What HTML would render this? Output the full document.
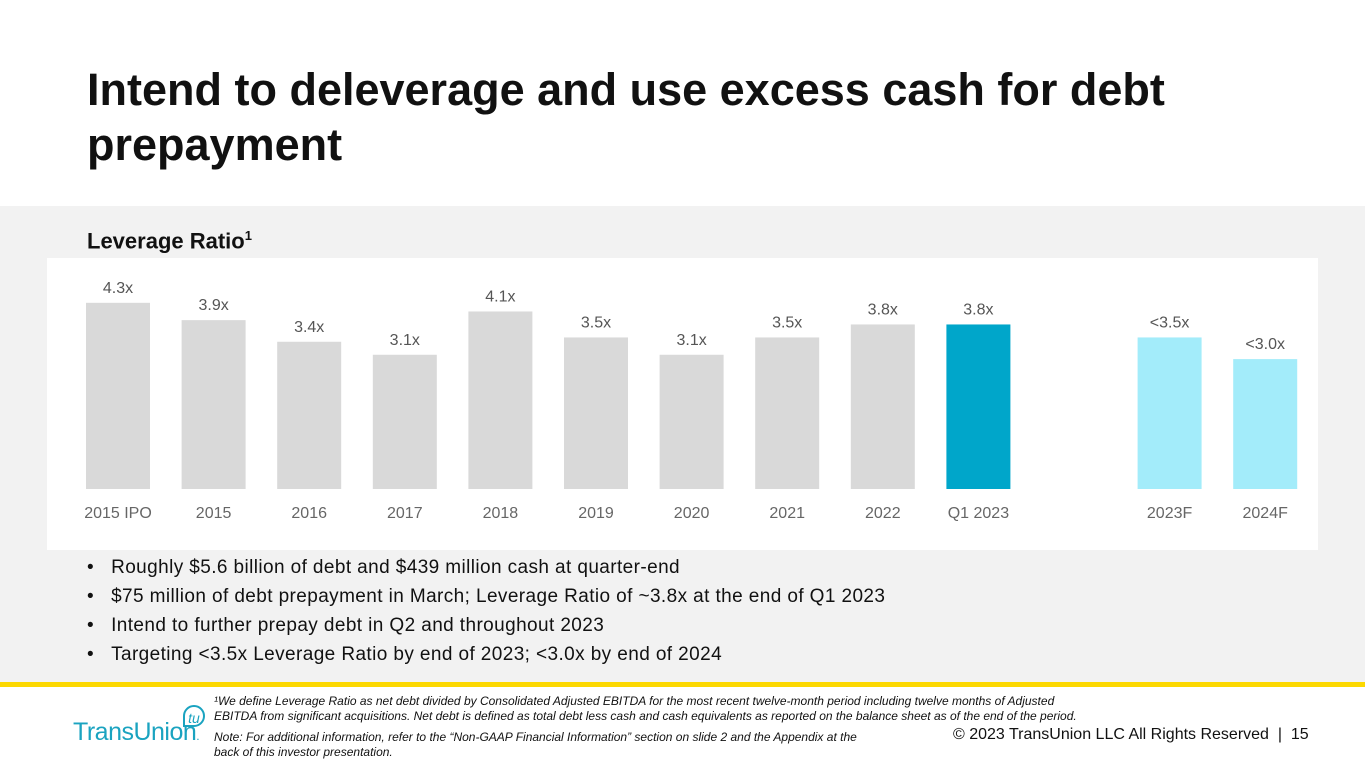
<!DOCTYPE html>
<html><head><meta charset="utf-8"><style>
body{margin:0;width:1365px;height:768px;overflow:hidden;background:#fff;font-family:"Liberation Sans",Arial,sans-serif;position:relative}
.abs{position:absolute}
</style></head><body>
<div class="abs" style="left:87px;top:62px;font-size:45px;font-weight:bold;line-height:55px;color:#111;width:1150px">Intend to deleverage and use excess cash for debt prepayment</div>
<div class="abs" style="left:0;top:206px;width:1365px;height:476px;background:#f2f2f2"></div>
<div class="abs" style="left:87px;top:228px;font-size:22px;font-weight:bold;color:#111">Leverage Ratio<sup style="font-size:13px">1</sup></div>
<div class="abs" style="left:47px;top:258px;width:1271px;height:292px;background:#fff"></div>
<svg class="abs" style="left:0;top:0" width="1365" height="768" id="chart"></svg>
<ul class="abs" style="left:87px;top:553px;margin:0;padding:0;list-style:none;font-size:19px;letter-spacing:0.4px;color:#111;line-height:29px;white-space:nowrap">
<li>•&nbsp;&nbsp;&nbsp;Roughly $5.6 billion of debt and $439 million cash at quarter-end</li>
<li>•&nbsp;&nbsp;&nbsp;$75 million of debt prepayment in March; Leverage Ratio of ~3.8x at the end of Q1 2023</li>
<li>•&nbsp;&nbsp;&nbsp;Intend to further prepay debt in Q2 and throughout 2023</li>
<li>•&nbsp;&nbsp;&nbsp;Targeting &lt;3.5x Leverage Ratio by end of 2023; &lt;3.0x by end of 2024</li>
</ul>
<div class="abs" style="left:0;top:682px;width:1365px;height:5px;background:#fcd800"></div>
<div class="abs" style="left:73px;top:718px;font-size:25px;color:#1aa3c0;letter-spacing:-0.5px">TransUnion<span style="font-size:12px">.</span></div>
<div class="abs" style="left:183px;top:705px;width:22px;height:22px;border:2px solid #1aa3c0;border-radius:50%;border-bottom-left-radius:0;color:#1aa3c0;font-size:14px;font-style:italic;line-height:22px;text-align:center;box-sizing:border-box">tu</div>
<div class="abs" style="left:214px;top:694px;font-size:12px;font-style:italic;color:#111;line-height:15px;width:870px">¹We define Leverage Ratio as net debt divided by Consolidated Adjusted EBITDA for the most recent twelve-month period including twelve months of Adjusted EBITDA from significant acquisitions. Net debt is defined as total debt less cash and cash equivalents as reported on the balance sheet as of the end of the period.</div>
<div class="abs" style="left:214px;top:730px;font-size:12px;font-style:italic;color:#111;line-height:15px;width:650px">Note:  For additional information, refer to the “Non-GAAP Financial Information” section on slide 2 and the Appendix at the back of this investor presentation.</div>
<div class="abs" style="left:953px;top:726px;font-size:16px;color:#111;white-space:nowrap">© 2023 TransUnion LLC All Rights Reserved &nbsp;|&nbsp; 15</div>
<script>
const categories=["2015 IPO","2015","2016","2017","2018","2019","2020","2021","2022","Q1 2023","2023F","2024F"];
const values=[4.3,3.9,3.4,3.1,4.1,3.5,3.1,3.5,3.8,3.8,3.5,3.0];
const valueLabels=["4.3x","3.9x","3.4x","3.1x","4.1x","3.5x","3.1x","3.5x","3.8x","3.8x","<3.5x","<3.0x"];
const slots=[0,1,2,3,4,5,6,7,8,9,11,12];
const kinds=["hist","hist","hist","hist","hist","hist","hist","hist","hist","current","forecast","forecast"];
const svg=document.getElementById('chart');const NS='http://www.w3.org/2000/svg';
const base=489,k=43.3,x0=118,step=95.6,bw=64;
const y=v=>base-v*k, x=s=>x0+s*step;
const colors={hist:'#d9d9d9',current:'#00a6ca',forecast:'#a3ecfa'};
categories.forEach((c,i)=>{
 const cx=x(slots[i]);
 const r=document.createElementNS(NS,'rect');
 r.setAttribute('x',cx-bw/2);r.setAttribute('y',y(values[i]));r.setAttribute('width',bw);r.setAttribute('height',base-y(values[i]));r.setAttribute('fill',colors[kinds[i]]);
 
 
 svg.appendChild(r);
 const t=document.createElementNS(NS,'text');
 t.setAttribute('x',cx);t.setAttribute('y',y(values[i])-10);t.setAttribute('text-anchor','middle');t.setAttribute('font-size','16');t.setAttribute('fill','#555');t.setAttribute('font-family','Liberation Sans, sans-serif');t.textContent=valueLabels[i];
 
 
 svg.appendChild(t);
 const l=document.createElementNS(NS,'text');
 l.setAttribute('x',cx);l.setAttribute('y',518);l.setAttribute('text-anchor','middle');l.setAttribute('font-size','16');l.setAttribute('fill','#666');l.setAttribute('font-family','Liberation Sans, sans-serif');l.textContent=c;
 
 
 svg.appendChild(l);
});
</script>
</body></html>
